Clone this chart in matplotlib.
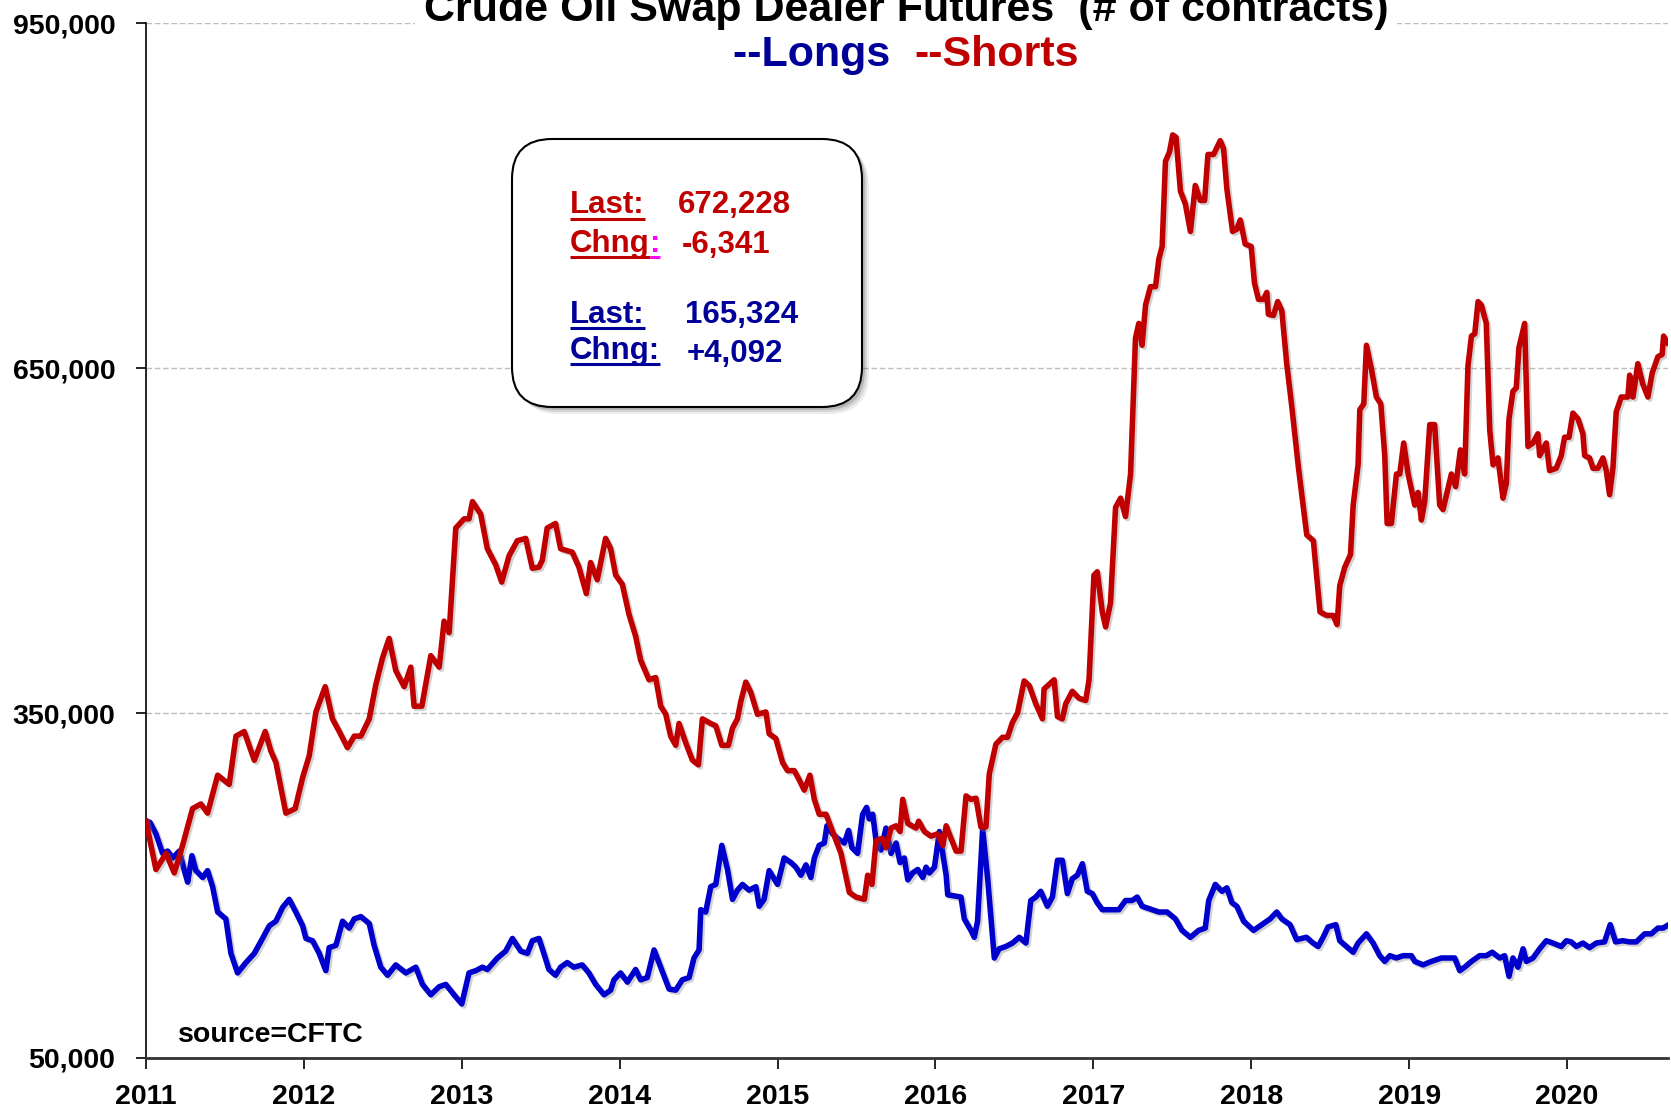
import matplotlib
matplotlib.use("Agg")
import matplotlib.pyplot as plt
import matplotlib.patheffects as pe
from matplotlib.patches import FancyBboxPatch
from matplotlib.ticker import FuncFormatter
import numpy as np

plt.rcParams['font.family'] = ['Liberation Sans', 'DejaVu Sans']

# ---------------- data (thousands of contracts, decimal years) ----------------
shorts_t = [2011.000, 2011.063, 2011.127, 2011.179, 2011.232, 2011.295, 2011.348, 2011.390, 2011.454, 2011.527,
            2011.570, 2011.622, 2011.686, 2011.755, 2011.791, 2011.823, 2011.886, 2011.945, 2011.992,
            2012.034, 2012.076, 2012.135, 2012.181, 2012.224, 2012.276, 2012.319, 2012.361, 2012.414, 2012.456,
            2012.498, 2012.540, 2012.582, 2012.635, 2012.677, 2012.698, 2012.747, 2012.804, 2012.857, 2012.888,
            2012.920, 2012.962,
            2013.015, 2013.046, 2013.068, 2013.120, 2013.162, 2013.215, 2013.253, 2013.300, 2013.352, 2013.405,
            2013.447, 2013.489,
            2013.510, 2013.541, 2013.594, 2013.626, 2013.700, 2013.742, 2013.789, 2013.816, 2013.858, 2013.911,
            2013.943, 2013.975,
            2014.017, 2014.059, 2014.101, 2014.133, 2014.186, 2014.228, 2014.260, 2014.292, 2014.323, 2014.355,
            2014.376, 2014.419, 2014.461, 2014.499, 2014.524, 2014.577, 2014.609, 2014.647, 2014.689, 2014.715,
            2014.746, 2014.767, 2014.799, 2014.831, 2014.873, 2014.926, 2014.947, 2014.989,
            2015.032, 2015.063, 2015.106, 2015.137, 2015.169, 2015.205, 2015.233, 2015.264, 2015.307, 2015.349,
            2015.402, 2015.455, 2015.497, 2015.550, 2015.571, 2015.598, 2015.624, 2015.662, 2015.687, 2015.719,
            2015.751, 2015.776, 2015.793, 2015.825, 2015.877, 2015.894, 2015.930, 2015.972,
            2016.015, 2016.047, 2016.068,
            2016.099, 2016.131, 2016.162, 2016.194, 2016.225, 2016.257, 2016.288, 2016.320, 2016.341, 2016.383,
            2016.425, 2016.457, 2016.488, 2016.520, 2016.562, 2016.594, 2016.636, 2016.678, 2016.688, 2016.752,
            2016.773, 2016.804, 2016.825, 2016.867, 2016.909, 2016.952, 2016.973,
            2017.004, 2017.025, 2017.057, 2017.078, 2017.109, 2017.141, 2017.173, 2017.204, 2017.236, 2017.267,
            2017.288, 2017.309, 2017.331, 2017.362, 2017.394, 2017.415, 2017.436, 2017.457, 2017.482, 2017.503,
            2017.524, 2017.552, 2017.583, 2017.615, 2017.646, 2017.678, 2017.705, 2017.726, 2017.762, 2017.804,
            2017.825, 2017.846, 2017.882, 2017.909, 2017.931, 2017.962,
            2018.000, 2018.021, 2018.046, 2018.078, 2018.099, 2018.109, 2018.141, 2018.168, 2018.194, 2018.225,
            2018.257, 2018.299, 2018.352, 2018.394, 2018.436, 2018.478,
            2018.519, 2018.544, 2018.561, 2018.593, 2018.629, 2018.646, 2018.677, 2018.688, 2018.713, 2018.730,
            2018.762, 2018.793, 2018.821, 2018.846, 2018.861, 2018.888, 2018.920, 2018.941, 2018.966, 2018.994,
            2019.036, 2019.057, 2019.078, 2019.099, 2019.131, 2019.162, 2019.194, 2019.215, 2019.268, 2019.295,
            2019.325, 2019.352, 2019.373, 2019.395, 2019.416, 2019.437, 2019.458, 2019.489, 2019.511, 2019.532,
            2019.563, 2019.595, 2019.616, 2019.633, 2019.658, 2019.679, 2019.696, 2019.732, 2019.753, 2019.785,
            2019.816, 2019.827, 2019.869, 2019.890, 2019.932, 2019.964, 2019.985,
            2020.013, 2020.038, 2020.070, 2020.101, 2020.112, 2020.143, 2020.165, 2020.196, 2020.228, 2020.249,
            2020.270, 2020.291, 2020.312, 2020.344, 2020.386, 2020.397, 2020.418, 2020.449, 2020.481, 2020.513,
            2020.540, 2020.576, 2020.603, 2020.612, 2020.637]

shorts_k = [256, 214, 228, 211, 235, 267, 271, 263, 296, 288, 330, 334, 309, 334, 317, 307, 263, 267, 294,
            313, 351, 373, 345, 334, 320, 330, 330, 345, 375, 398, 415, 387, 373, 390, 356, 356, 400, 390, 430,
            420, 511,
            519, 519, 534, 523, 493, 479, 464, 487, 500, 502, 476, 477,
            483, 511, 515, 493, 490, 477, 454, 481, 466, 502, 493, 470,
            462, 436, 417, 396, 379, 381, 356, 349, 330, 322, 341, 324, 309, 305, 345, 341, 339, 322, 322, 337,
            345, 360, 377, 368, 349, 351, 332, 328,
            307, 300, 300, 292, 283, 296, 275, 262, 262, 247, 228, 194, 190, 188, 209, 201, 239, 241, 233, 250,
            252, 247, 275, 254, 250, 256, 247, 243,
            245, 235, 252,
            241, 230, 230, 278, 275, 276, 251, 251, 297, 323, 329, 329, 342, 350, 378, 374, 358, 345, 371, 379,
            347, 345, 358, 369, 363, 361, 379,
            470, 473, 438, 425, 446, 529, 537, 521, 558, 676, 689, 670, 705, 721, 721, 745, 756, 830, 838, 853,
            851, 804, 793, 769, 809, 796, 796, 836, 836, 848, 841, 806, 769, 771, 779, 758,
            756, 724, 710, 710, 716, 697, 696, 708, 700, 654, 617, 564, 505, 500, 438, 435,
            435, 427, 461, 477, 488, 531, 566, 614, 619, 670, 649, 625, 619, 574, 515, 515, 558, 558, 585, 558,
            531, 542, 518, 534, 601, 601, 531, 527, 558, 547, 579, 558, 652, 678, 680, 708, 705, 689, 596, 566,
            572, 537, 550, 606, 630, 633, 668, 689, 582, 585, 593, 574, 585, 561, 563, 574, 590,
            590, 611, 606, 593, 574, 572, 563, 563, 572, 561, 540, 563, 612, 625, 625, 644, 625, 654, 636, 625,
            646, 660, 662, 678, 672.228]

longs_t = [2011.000, 2011.025, 2011.063, 2011.105, 2011.137, 2011.169, 2011.211, 2011.243, 2011.264, 2011.291,
           2011.316, 2011.359, 2011.390, 2011.422, 2011.454, 2011.506, 2011.538, 2011.580, 2011.633, 2011.686,
           2011.738, 2011.781, 2011.823, 2011.865, 2011.907, 2011.949, 2011.992,
           2012.013, 2012.055, 2012.097, 2012.139, 2012.160, 2012.203, 2012.245, 2012.287, 2012.319, 2012.361,
           2012.414, 2012.445, 2012.487, 2012.530, 2012.582, 2012.646, 2012.709, 2012.751, 2012.804, 2012.857,
           2012.899, 2012.951,
           2013.000, 2013.046, 2013.089, 2013.131, 2013.162, 2013.226, 2013.278, 2013.321, 2013.373, 2013.416,
           2013.447, 2013.489,
           2013.520, 2013.552, 2013.594, 2013.626, 2013.668, 2013.710, 2013.763, 2013.805, 2013.848, 2013.901,
           2013.943, 2013.964,
           2014.006, 2014.049, 2014.101, 2014.133, 2014.175, 2014.218, 2014.260, 2014.313, 2014.355, 2014.397,
           2014.440, 2014.471, 2014.503, 2014.514, 2014.545, 2014.577, 2014.609, 2014.647, 2014.683, 2014.715,
           2014.746, 2014.778, 2014.820, 2014.863, 2014.884, 2014.915, 2014.947,
           2015.000, 2015.042, 2015.085, 2015.116, 2015.148, 2015.180, 2015.211, 2015.233, 2015.264, 2015.296,
           2015.313, 2015.349, 2015.381, 2015.423, 2015.450, 2015.471, 2015.507, 2015.539, 2015.564, 2015.581,
           2015.603, 2015.624, 2015.655, 2015.687, 2015.719, 2015.751, 2015.776, 2015.803, 2015.825, 2015.856,
           2015.888, 2015.920, 2015.941, 2015.962, 2015.994,
           2016.025, 2016.068, 2016.078,
           2016.162, 2016.183, 2016.225, 2016.246, 2016.267, 2016.299, 2016.331, 2016.373, 2016.404, 2016.446,
           2016.488, 2016.531, 2016.573, 2016.604, 2016.636, 2016.667, 2016.709, 2016.741, 2016.773, 2016.804,
           2016.836, 2016.867, 2016.899, 2016.931, 2016.962, 2016.994,
           2017.025, 2017.057, 2017.109, 2017.162, 2017.204, 2017.246, 2017.278, 2017.309, 2017.373, 2017.415,
           2017.467, 2017.520, 2017.562, 2017.615, 2017.667, 2017.709, 2017.731, 2017.773, 2017.815, 2017.846,
           2017.878, 2017.909, 2017.952,
           2018.015, 2018.067, 2018.120, 2018.162, 2018.194, 2018.246, 2018.288,
           2018.350, 2018.392, 2018.424, 2018.456, 2018.487, 2018.536, 2018.561, 2018.603, 2018.646, 2018.677,
           2018.730, 2018.772, 2018.814, 2018.846, 2018.878, 2018.920, 2018.962,
           2019.015, 2019.036, 2019.089, 2019.141, 2019.205, 2019.247, 2019.289, 2019.321, 2019.352, 2019.395,
           2019.447, 2019.489, 2019.527, 2019.574, 2019.605, 2019.633, 2019.658, 2019.690, 2019.722, 2019.743,
           2019.785, 2019.827, 2019.869, 2019.911, 2019.964, 2019.996,
           2020.027, 2020.059, 2020.101, 2020.143, 2020.186, 2020.238, 2020.274, 2020.308, 2020.354, 2020.397,
           2020.439, 2020.492, 2020.534, 2020.576, 2020.608, 2020.637]

longs_k = [256, 255, 245, 228, 230, 224, 230, 213, 203, 226, 213, 207, 213, 199, 177, 171, 141, 124, 133, 141,
           154, 165, 169, 181, 188, 177, 165,
           154, 152, 141, 126, 146, 148, 169, 163, 171, 173, 167, 148, 129, 122, 131, 124, 129, 114, 105, 112,
           114, 105,
           97, 124, 126, 129, 127, 137, 143, 154, 143, 141, 152, 154,
           141, 127, 122, 129, 133, 129, 131, 124, 114, 105, 109, 118,
           124, 116, 127, 118, 120, 144, 129, 110, 109, 118, 120, 137, 144, 179, 177, 199, 201, 235, 214, 188,
           196, 201, 196, 199, 182, 188, 213,
           201, 224, 220, 216, 209, 218, 207, 224, 235, 237, 252, 245, 241, 237, 248, 233, 228, 262, 268, 258,
           262, 239, 231, 250, 228, 237, 220, 224, 205, 211, 214, 207, 216, 211, 216,
           247, 209, 192,
           190, 171, 161, 155, 169, 249, 206, 137, 145, 147, 150, 155, 150, 187, 190, 195, 182, 190, 222, 222,
           193, 206, 209, 219, 195, 193,
           185, 179, 179, 179, 187, 187, 190, 182, 179, 177, 177, 171, 161, 155, 161, 163, 187, 201, 195, 198,
           185, 182, 169,
           161, 166, 171, 177, 171, 166, 153,
           155, 150, 147, 155, 164, 166, 152, 147, 142, 150, 158, 150, 139, 134, 139, 137, 139,
           139, 134, 131, 134, 137, 137, 137, 126, 129, 134, 139, 139, 142, 137, 139, 121, 137, 129, 145, 134,
           137, 145, 152, 150, 147, 152,
           151, 147, 150, 146, 150, 151, 166, 151, 152, 151, 151, 158, 158, 163, 163, 165.324]

y_ticks = [50000, 350000, 650000, 950000]
x_ticks = [2011, 2012, 2013, 2014, 2015, 2016, 2017, 2018, 2019, 2020]
x_labels = [str(y) for y in x_ticks]

title_text = "Crude Oil Swap Dealer Futures  (# of contracts)"
shorts_last, shorts_chng = "672,228", "-6,341"
longs_last, longs_chng = "165,324", "+4,092"
source_text = "source=CFTC"

RED = '#C00000'
BLUE_LINE = '#0000CC'
BLUE_TXT = '#000099'

# ---------------- figure ----------------
W, H = 1671, 1109
fig = plt.figure(figsize=(W / 100, H / 100), dpi=100)
ax = fig.add_axes([146 / W, 1 - 1058 / H, 1522 / W, (1058 - 23.4) / H])

shadow = [pe.SimpleLineShadow(offset=(1.5, -1.5), shadow_color='#808080', alpha=0.35), pe.Normal()]
ax.plot(longs_t, np.array(longs_k) * 1000, color=BLUE_LINE, lw=4.0, solid_joinstyle='round',
        path_effects=shadow, zorder=3)
ax.plot(shorts_t, np.array(shorts_k) * 1000, color=RED, lw=4.0, solid_joinstyle='round',
        path_effects=shadow, zorder=4)

ax.set_xlim(2011, 2020.64)
ax.set_ylim(50000, 950000)
ax.set_yticks(y_ticks)
ax.yaxis.set_major_formatter(FuncFormatter(lambda v, p: f"{v:,.0f}"))
ax.set_xticks(x_ticks)
ax.set_xticklabels(x_labels)
ax.tick_params(axis='y', direction='out', length=7, width=1.2, pad=15, labelsize=20.5)
ax.tick_params(axis='x', direction='out', length=8, width=1.2, pad=11, labelsize=20.5)
for lab in ax.get_xticklabels() + ax.get_yticklabels():
    lab.set_fontweight('bold')
ax.yaxis.grid(True, linestyle=(0, (4, 2)), color='#BDBDBD', lw=1)
ax.set_axisbelow(True)
for s in ['top', 'right']:
    ax.spines[s].set_visible(False)
ax.spines['bottom'].set_color('#333333')
ax.spines['bottom'].set_linewidth(2)
ax.spines['left'].set_color('black')
ax.spines['left'].set_linewidth(1.2)

# ---------------- overlay in pixel coordinates ----------------
ov = fig.add_axes([0, 0, 1, 1], zorder=5)
ov.set_xlim(0, W)
ov.set_ylim(H, 0)
ov.axis('off')
ov.patch.set_visible(False)

ov.text(906, 21, title_text, ha='center', va='baseline', fontsize=31, fontweight='bold', color='black',
        bbox=dict(boxstyle='square,pad=0.2', fc='white', ec='none'))
ov.text(733, 66, "--Longs  ", ha='left', va='baseline', fontsize=31, fontweight='bold', color=BLUE_TXT)
ov.text(914, 66, "--Shorts", ha='left', va='baseline', fontsize=31, fontweight='bold', color=RED)

# annotation box with shadow
bx, by, bw, bh, r = 512, 139, 350, 268, 40
for k, a in [(7, 0.10), (5, 0.15), (3, 0.25)]:
    ov.add_patch(FancyBboxPatch((bx + k, by + k), bw, bh, boxstyle=f'round,pad=0,rounding_size={r}',
                                fc='#555555', ec='none', alpha=a, zorder=1))
ov.add_patch(FancyBboxPatch((bx, by), bw, bh, boxstyle=f'round,pad=0,rounding_size={r}',
                            fc='white', ec='black', lw=1.5, zorder=2))

fs = 22.5
red_last = ov.text(570, 213, "Last:", fontsize=fs, fontweight='bold', color=RED, va='baseline', zorder=3)
ov.text(678, 213, shorts_last, fontsize=fs, fontweight='bold', color=RED, va='baseline', zorder=3)
c1 = ov.text(570, 252, "Chng", fontsize=fs, fontweight='bold', color=RED, va='baseline', zorder=3)
ov.text(682, 253, shorts_chng, fontsize=fs, fontweight='bold', color=RED, va='baseline', zorder=3)
l2 = ov.text(570, 323, "Last:", fontsize=fs, fontweight='bold', color=BLUE_TXT, va='baseline', zorder=3)
ov.text(685, 323, longs_last, fontsize=fs, fontweight='bold', color=BLUE_TXT, va='baseline', zorder=3)
c2 = ov.text(570, 359, "Chng:", fontsize=fs, fontweight='bold', color=BLUE_TXT, va='baseline', zorder=3)
ov.text(687, 362, longs_chng, fontsize=fs, fontweight='bold', color=BLUE_TXT, va='baseline', zorder=3)

ov.text(178, 1035, source_text, fontsize=20.5, fontweight='bold', color='black', va='center', zorder=3)

fig.canvas.draw()
renderer = fig.canvas.get_renderer()
inv = ov.transData.inverted()


def ext(t):
    bb = t.get_window_extent(renderer)
    (x0, _), (x1, _) = inv.transform([(bb.x0, bb.y0), (bb.x1, bb.y1)])
    return x0, x1


cx0, cx1 = ext(c1)
colon = ov.text(cx1, 252, ":", fontsize=fs, fontweight='bold', color='#FF00FF', va='baseline', zorder=3)
fig.canvas.draw()
kx0, kx1 = ext(colon)

x0, x1 = ext(red_last)
ov.plot([x0, x1], [219, 219], color=RED, lw=2.2, zorder=3, solid_capstyle='butt')
ov.plot([cx0, cx1], [257, 257], color=RED, lw=2.2, zorder=3, solid_capstyle='butt')
ov.plot([kx0, kx1], [257, 257], color='#FF00FF', lw=2.2, zorder=3, solid_capstyle='butt')
x0, x1 = ext(l2)
ov.plot([x0, x1], [328, 328], color=BLUE_TXT, lw=2.2, zorder=3, solid_capstyle='butt')
x0, x1 = ext(c2)
ov.plot([x0, x1], [364, 364], color=BLUE_TXT, lw=2.2, zorder=3, solid_capstyle='butt')

fig.savefig("out.png", dpi=100, facecolor='white')
